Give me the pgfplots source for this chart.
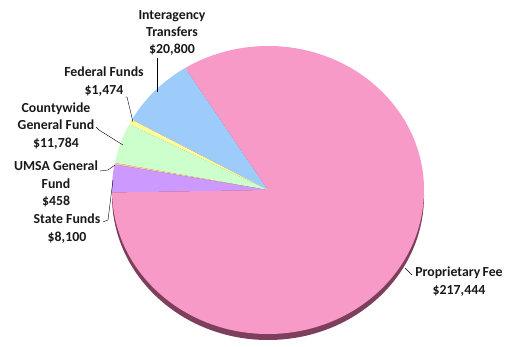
\documentclass[border=0pt]{standalone}
\usepackage{pgfplots}
\pgfplotsset{compat=1.18}
\usepackage{fontspec}
\setmainfont{Carlito}
\definecolor{cProp}{HTML}{F79AC7}
\definecolor{cInter}{HTML}{9DCBFA}
\definecolor{cFed}{HTML}{FFFF99}
\definecolor{cCounty}{HTML}{CCFFCC}
\definecolor{cUMSA}{HTML}{FFCC99}
\definecolor{cState}{HTML}{CC99FF}
\definecolor{cShadow}{HTML}{7E3F5C}
% slice values (thousands of dollars as plain numbers)
\def\vInter{20800}
\def\vFed{1474}
\def\vCounty{11784}
\def\vUMSA{458}
\def\vState{8100}
\def\vProp{217444}
\edef\vTotal{\fpeval{\vInter+\vFed+\vCounty+\vUMSA+\vState+\vProp}}
\edef\aA{122}
\edef\aB{\fpeval{\aA+360*\vInter/\vTotal}}
\edef\aC{\fpeval{\aB+360*\vFed/\vTotal}}
\edef\aD{\fpeval{\aC+360*\vCounty/\vTotal}}
\edef\aE{\fpeval{\aD+360*\vUMSA/\vTotal}}
\edef\aF{\fpeval{\aE+360*\vState/\vTotal}}
\edef\aG{\fpeval{\aF+360*\vProp/\vTotal}}
\newcommand\slice[3]{%
  \fill[#3] (axis cs:268,156) -- ++(#1:156pt and 144pt)
    arc[start angle=#1, end angle=#2, x radius=156pt, y radius=144pt] -- cycle;}
\tikzset{lbl/.style={font=\fontsize{13.8}{17.2}\selectfont\bfseries, align=center, text=black!90, inner sep=0pt}}
\begin{document}
\begin{tikzpicture}
\begin{axis}[
  width=508pt, height=346pt, scale only axis,
  xmin=0, xmax=508, ymin=0, ymax=346,
  hide axis, clip=false,
]
\path (axis cs:0,0) rectangle (axis cs:508,346);
\fill[cShadow] (axis cs:268,150) ellipse[x radius=156pt, y radius=144pt];
\slice{\aA}{\aB}{cInter}
\slice{\aB}{\aC}{cFed}
\slice{\aC}{\aD}{cCounty}
\slice{\aD}{\aE}{cUMSA}
\slice{\aE}{\aF}{cState}
\slice{\aF}{\aG}{cProp}
\node[lbl] at (axis cs:172,313) {Interagency\\Transfers\\\$20,800};
\node[lbl] at (axis cs:104,264.5) {Federal Funds\\\$1,474};
\node[lbl] at (axis cs:56,220) {Countywide\\General Fund\\\$11,784};
\node[lbl] at (axis cs:56,162) {UMSA General\\Fund\\\$458};
\node[lbl] at (axis cs:67,117.5) {State Funds\\\$8,100};
\node[lbl] at (axis cs:459,64.5) {Proprietary\,Fee\\\$217,444};
\draw[black, thin] (axis cs:157,288) -- (axis cs:157,254);
\draw[black, thin] (axis cs:125,249) -- (axis cs:127,249) -- (axis cs:133,224);
\draw[black, thin] (axis cs:96,219) -- (axis cs:99,216) -- (axis cs:123,201);
\draw[black, thin] (axis cs:100,175) -- (axis cs:108,176) -- (axis cs:115,181);
\draw[black, thin] (axis cs:103,124) -- (axis cs:108,126) -- (axis cs:113,166);
\draw[black, thin] (axis cs:405,78) -- (axis cs:412,71);
\end{axis}
\end{tikzpicture}
\end{document}
